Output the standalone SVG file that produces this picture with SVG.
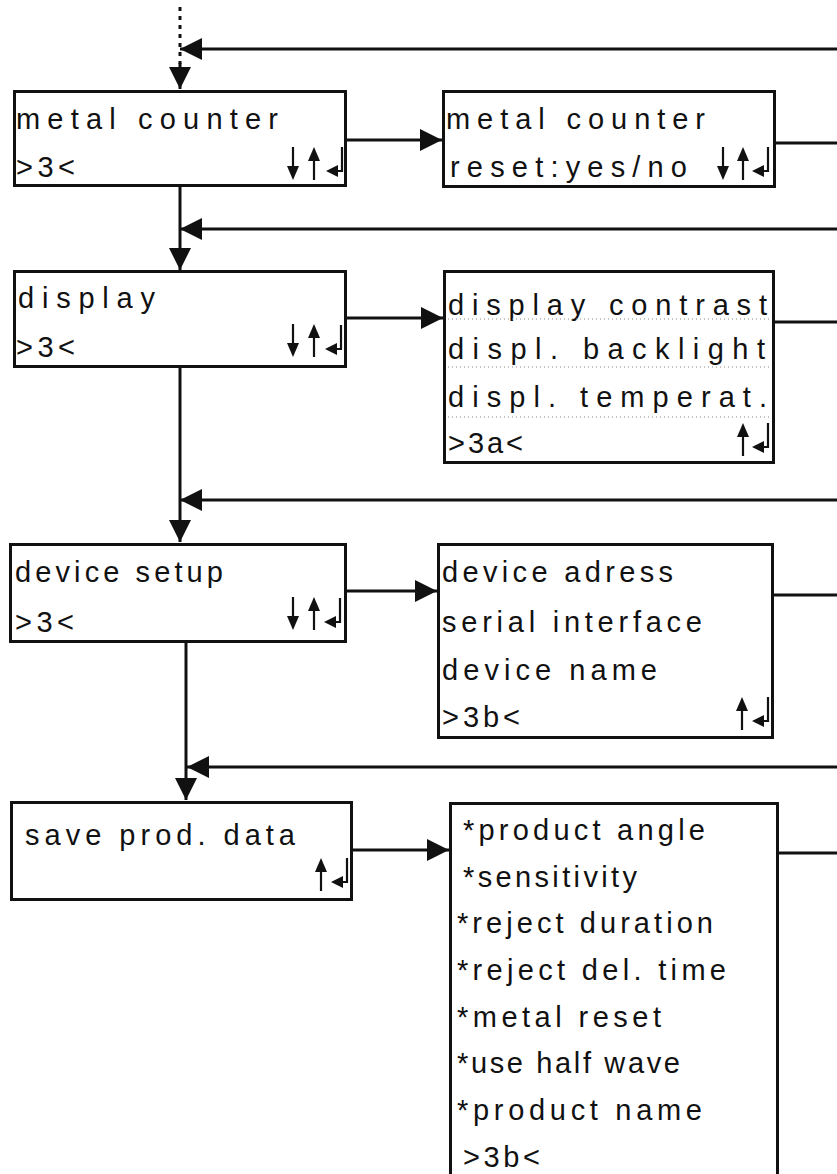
<svg xmlns="http://www.w3.org/2000/svg" xmlns:xlink="http://www.w3.org/1999/xlink" width="837" height="1174" viewBox="0 0 837 1174">
<style>
.box{fill:#fff;stroke:#111;stroke-width:3}
.t{font-family:"Liberation Sans",Arial,sans-serif;font-size:29px;fill:#111}
.c{fill:none;stroke:#111;stroke-width:3}
.ic line,.ic polyline{stroke:#111;stroke-width:2.2;fill:none}
.ic polygon{fill:#111;stroke:none}
.sep{stroke:#888;stroke-width:1;stroke-dasharray:1 3}
</style>
<defs>
<marker id="ah" markerUnits="userSpaceOnUse" markerWidth="22" markerHeight="22" refX="22" refY="11" orient="auto"><path d="M0,0 L22,11 L0,22 z" fill="#111"/></marker>
<g id="dn" class="ic"><line x1="0" y1="0" x2="0" y2="21"/><polygon points="-6,19 6,19 0,33"/></g>
<g id="up" class="ic"><line x1="0" y1="12" x2="0" y2="33"/><polygon points="0,0 -6,14 6,14"/></g>
<g id="ret" class="ic"><polyline points="16,0 16,24 8,24"/><polygon points="0,24 12,18 12,30"/></g>
</defs>
<rect width="837" height="1174" fill="#fff"/>
<g id="connectors">
<line class="c" x1="180" y1="7" x2="180" y2="64" stroke-dasharray="4 5"/>
<line class="c" x1="180" y1="63" x2="180" y2="89" marker-end="url(#ah)"/>
<line class="c" x1="837" y1="49" x2="180" y2="49" marker-end="url(#ah)"/>
<line class="c" x1="347" y1="140" x2="442" y2="140" marker-end="url(#ah)"/>
<line class="c" x1="776" y1="143" x2="837" y2="143"/>
<line class="c" x1="180" y1="187" x2="180" y2="270" marker-end="url(#ah)"/>
<line class="c" x1="837" y1="229" x2="180" y2="229" marker-end="url(#ah)"/>
<line class="c" x1="347" y1="318" x2="443" y2="318" marker-end="url(#ah)"/>
<line class="c" x1="775" y1="322" x2="837" y2="322"/>
<line class="c" x1="180" y1="368" x2="180" y2="542" marker-end="url(#ah)"/>
<line class="c" x1="837" y1="500" x2="180" y2="500" marker-end="url(#ah)"/>
<line class="c" x1="340" y1="591" x2="437" y2="591" marker-end="url(#ah)"/>
<line class="c" x1="774" y1="595" x2="837" y2="595"/>
<line class="c" x1="186" y1="643" x2="186" y2="800" marker-end="url(#ah)"/>
<line class="c" x1="837" y1="767" x2="187" y2="767" marker-end="url(#ah)"/>
<line class="c" x1="353" y1="850" x2="449" y2="850" marker-end="url(#ah)"/>
<line class="c" x1="779" y1="853" x2="837" y2="853"/>
</g>
<g id="metal-counter">
<rect class="box" x="14.5" y="91.5" width="331" height="94"/>
<text class="t" x="16" y="129" textLength="262" lengthAdjust="spacing">metal counter</text>
<text class="t" x="16" y="177" textLength="59" lengthAdjust="spacing">&gt;3&lt;</text>
<use xlink:href="#dn" x="293" y="147"/><use xlink:href="#up" x="314" y="147"/><use xlink:href="#ret" x="326" y="147"/>
</g>
<g id="metal-counter-reset">
<rect class="box" x="443.5" y="91.5" width="331" height="95"/>
<text class="t" x="446" y="129" textLength="259" lengthAdjust="spacing">metal counter</text>
<text class="t" x="450" y="177" textLength="237" lengthAdjust="spacing">reset:yes/no</text>
<use xlink:href="#dn" x="723" y="147"/><use xlink:href="#up" x="743" y="147"/><use xlink:href="#ret" x="752" y="147"/>
</g>
<g id="display">
<rect class="box" x="14.5" y="271.5" width="331" height="95"/>
<text class="t" x="18" y="308" textLength="137" lengthAdjust="spacing">display</text>
<text class="t" x="16" y="357" textLength="59" lengthAdjust="spacing">&gt;3&lt;</text>
<use xlink:href="#dn" x="293" y="324"/><use xlink:href="#up" x="314" y="324"/><use xlink:href="#ret" x="325" y="325"/>
</g>
<g id="display-menu">
<rect class="box" x="444.5" y="271.5" width="329" height="191"/>
<text class="t" x="448" y="315" textLength="319" lengthAdjust="spacing">display contrast</text>
<line class="sep" x1="448" y1="319" x2="771" y2="319"/>
<text class="t" x="448" y="359" textLength="317" lengthAdjust="spacing">displ. backlight</text>
<line class="sep" x1="448" y1="367" x2="771" y2="367"/>
<text class="t" x="448" y="407" textLength="319" lengthAdjust="spacing">displ. temperat.</text>
<line class="sep" x1="448" y1="417" x2="771" y2="417"/>
<text class="t" x="448" y="453" textLength="75" lengthAdjust="spacing">&gt;3a&lt;</text>
<use xlink:href="#up" x="743" y="423"/><use xlink:href="#ret" x="752" y="423"/>
</g>
<g id="device-setup">
<rect class="box" x="10.5" y="544.5" width="335" height="97"/>
<text class="t" x="15" y="582" textLength="208" lengthAdjust="spacing">device setup</text>
<text class="t" x="15" y="632" textLength="59" lengthAdjust="spacing">&gt;3&lt;</text>
<use xlink:href="#dn" x="293" y="597"/><use xlink:href="#up" x="314" y="597"/><use xlink:href="#ret" x="324" y="598"/>
</g>
<g id="device-menu">
<rect class="box" x="438.5" y="544.5" width="334" height="193"/>
<text class="t" x="442" y="582" textLength="231" lengthAdjust="spacing">device adress</text>
<text class="t" x="442" y="632" textLength="260" lengthAdjust="spacing">serial interface</text>
<text class="t" x="442" y="680" textLength="215" lengthAdjust="spacing">device name</text>
<text class="t" x="442" y="727" textLength="78" lengthAdjust="spacing">&gt;3b&lt;</text>
<use xlink:href="#up" x="742" y="697"/><use xlink:href="#ret" x="752" y="697"/>
</g>
<g id="save-prod-data">
<rect class="box" x="11.5" y="802.5" width="340" height="97"/>
<text class="t" x="25" y="845" textLength="270" lengthAdjust="spacing">save prod. data</text>
<use xlink:href="#up" x="321" y="858"/><use xlink:href="#ret" x="331" y="858"/>
</g>
<g id="product-menu">
<rect class="box" x="450.5" y="803.5" width="327" height="400"/>
<text class="t" x="463" y="840" textLength="242" lengthAdjust="spacing">*product angle</text>
<text class="t" x="463" y="887" textLength="174" lengthAdjust="spacing">*sensitivity</text>
<text class="t" x="457" y="933" textLength="256" lengthAdjust="spacing">*reject duration</text>
<text class="t" x="457" y="980" textLength="269" lengthAdjust="spacing">*reject del. time</text>
<text class="t" x="457" y="1027" textLength="204" lengthAdjust="spacing">*metal reset</text>
<text class="t" x="457" y="1073" textLength="223" lengthAdjust="spacing">*use half wave</text>
<text class="t" x="457" y="1120" textLength="245" lengthAdjust="spacing">*product name</text>
<text class="t" x="463" y="1167" textLength="77" lengthAdjust="spacing">&gt;3b&lt;</text>
</g>
</svg>
